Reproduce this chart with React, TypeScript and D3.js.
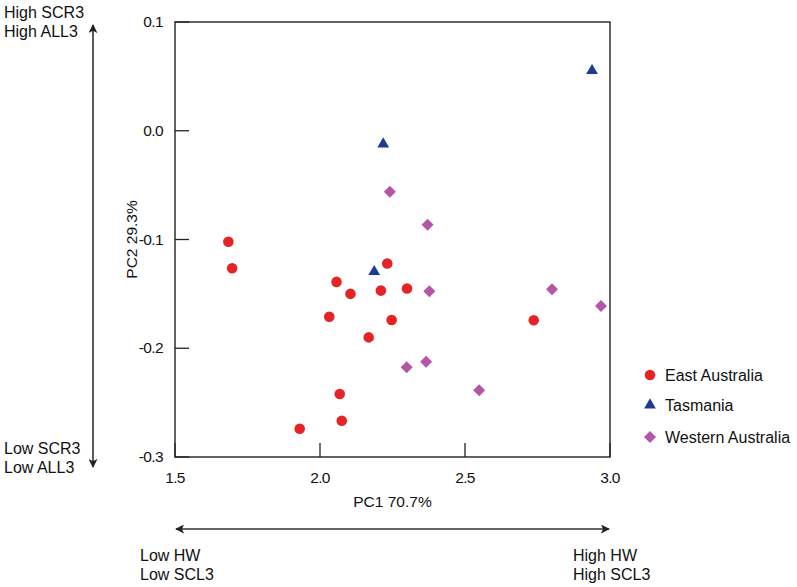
import React from "react";
import * as d3 from "d3";

const eastX = [1.684, 1.697, 2.057, 2.105, 2.232, 2.21, 2.3, 2.032, 2.247, 2.168, 2.068, 2.075, 1.93, 2.737];
const eastY = [-0.102, -0.1265, -0.139, -0.15, -0.122, -0.147, -0.145, -0.171, -0.174, -0.19, -0.242, -0.2666, -0.274, -0.1743];
const tasX = [2.218, 2.187, 2.938];
const tasY = [-0.0122, -0.1296, 0.0552];
const westX = [2.241, 2.371, 2.377, 2.299, 2.366, 2.549, 2.8, 2.969];
const westY = [-0.056, -0.0864, -0.1477, -0.2175, -0.2123, -0.2387, -0.1458, -0.1611];

const xTicks = [1.5, 2.0, 2.5, 3.0];
const yTicks = [0.1, 0.0, -0.1, -0.2, -0.3];
const seriesNames = ["East Australia", "Tasmania", "Western Australia"];
const seriesColors = ["#e62325", "#1f3a96", "#b455a8"];

const W = 797, H = 587;
const L = 175, R = 610, T = 22, B = 457;
const FONT = "'Liberation Sans', Arial, Helvetica, sans-serif";

export default function App() {
  const x = d3.scaleLinear().domain([1.5, 3.0]).range([L, R]);
  const y = d3.scaleLinear().domain([-0.3, 0.1]).range([B, T]);
  const circle = d3.symbol().type(d3.symbolCircle).size(Math.PI * 28)()!;
  const tri = d3.symbol().type(d3.symbolTriangle).size(60)()!;
  const sq = d3.symbol().type(d3.symbolSquare).size(72)()!;
  const markers = [circle, tri, sq];
  const rot = [0, 0, 45];
  const series = [
    eastX.map((v, i) => [v, eastY[i]]),
    tasX.map((v, i) => [v, tasY[i]]),
    westX.map((v, i) => [v, westY[i]]),
  ];
  const legendY = [375, 405, 437];
  const ax = "#222";
  return (
    <svg width={W} height={H} style={{ position: "absolute", left: 0, top: 0, background: "#fff" }} fontFamily={FONT}>
      <defs>
        <marker id="ah" viewBox="0 0 10 10" refX="9" refY="5" markerWidth="9" markerHeight="9" markerUnits="userSpaceOnUse" orient="auto-start-reverse">
          <path d="M0,0 L10,5 L0,10 L2.5,5 Z" fill="#222" />
        </marker>
      </defs>
      {/* frame */}
      <rect x={L} y={T} width={R - L} height={B - T} fill="none" stroke={ax} strokeWidth={1.4} />
      {/* ticks */}
      {yTicks.map((t) => (
        <g key={"y" + t}>
          <line x1={L} x2={L + 14} y1={y(t)} y2={y(t)} stroke={ax} strokeWidth={1.3} />
          <text x={163} y={y(t) + 5} textAnchor="end" fontSize={15.5} fill="#111" letterSpacing={-0.6}>
            {d3.format(".1f")(t).replace("−", "-")}
          </text>
        </g>
      ))}
      {xTicks.map((t) => (
        <g key={"x" + t}>
          <line x1={x(t)} x2={x(t)} y1={B} y2={B - 14} stroke={ax} strokeWidth={1.3} />
          <text x={x(t)} y={483} textAnchor="middle" fontSize={15.5} fill="#111" letterSpacing={-0.6}>
            {d3.format(".1f")(t)}
          </text>
        </g>
      ))}
      <text x={(L + R) / 2} y={507} textAnchor="middle" fontSize={15.5} fill="#111">PC1 70.7%</text>
      <text transform={`translate(137,${(T + B) / 2}) rotate(-90)`} textAnchor="middle" fontSize={15.5} fill="#111">PC2 29.3%</text>
      {/* points */}
      {series.map((pts, si) =>
        pts.map((p, i) => (
          <path key={si + "-" + i} d={markers[si]} fill={seriesColors[si]}
            transform={`translate(${x(p[0])},${y(p[1])}) rotate(${rot[si]})`} />
        ))
      )}
      {/* legend */}
      {seriesNames.map((n, i) => (
        <g key={n}>
          <path d={markers[i]} fill={seriesColors[i]} transform={`translate(650,${legendY[i]}) rotate(${rot[i]})`} />
          <text x={665} y={legendY[i] + 5.5} fontSize={16} fill="#111">{n}</text>
        </g>
      ))}
      {/* arrows */}
      <line x1={93} x2={93} y1={25} y2={467} stroke="#333" strokeWidth={1.6} markerStart="url(#ah)" markerEnd="url(#ah)" />
      <line x1={176} x2={609} y1={529} y2={529} stroke="#333" strokeWidth={1.6} markerStart="url(#ah)" markerEnd="url(#ah)" />
      {/* annotations */}
      <g fontSize={16} fill="#111">
        <text x={4} y={18}>High SCR3</text>
        <text x={4} y={37}>High ALL3</text>
        <text x={4} y={454}>Low SCR3</text>
        <text x={4} y={473}>Low ALL3</text>
        <text x={140} y={561}>Low HW</text>
        <text x={140} y={580}>Low SCL3</text>
        <text x={573} y={561}>High HW</text>
        <text x={573} y={580}>High SCL3</text>
      </g>
    </svg>
  );
}
